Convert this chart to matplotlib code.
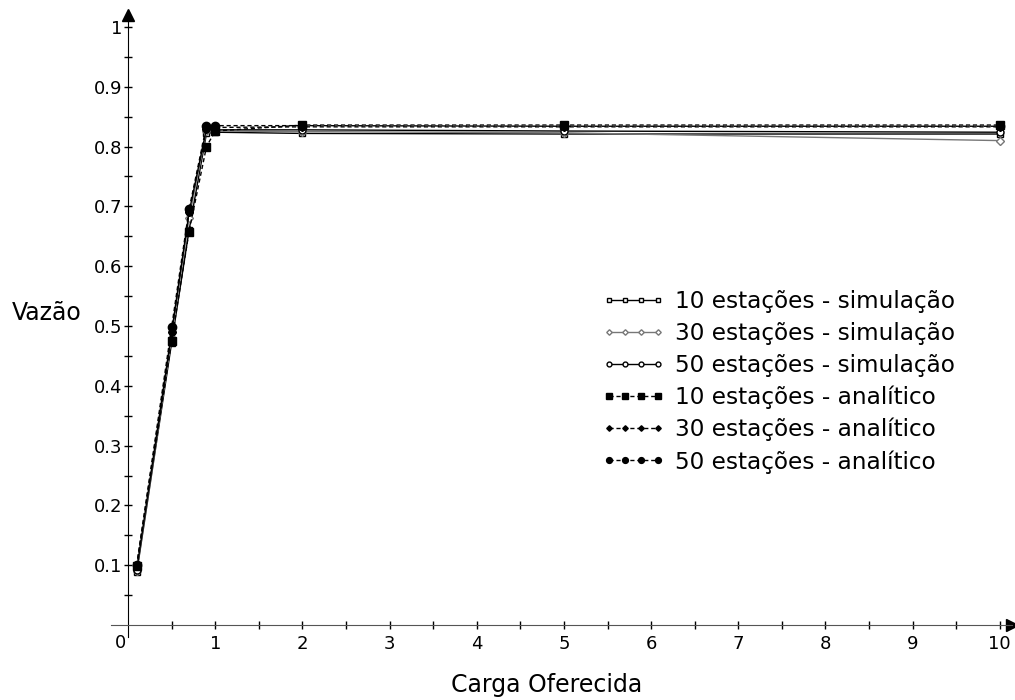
import numpy as np
import matplotlib
matplotlib.use("Agg")
import matplotlib.pyplot as plt

plt.rcParams['font.family'] = ['DejaVu Sans']

# carga oferecida
carga = [0.1, 0.5, 0.7, 0.9, 1, 2, 5, 10]

sim10 = [0.088, 0.472, 0.660, 0.822, 0.824, 0.822, 0.821, 0.821]
sim30 = [0.090, 0.480, 0.680, 0.826, 0.826, 0.825, 0.823, 0.810]
sim50 = [0.092, 0.490, 0.690, 0.830, 0.828, 0.828, 0.826, 0.824]
ana10 = [0.098, 0.475, 0.658, 0.800, 0.826, 0.836, 0.836, 0.836]
ana30 = [0.100, 0.490, 0.690, 0.830, 0.832, 0.833, 0.833, 0.833]
ana50 = [0.100, 0.498, 0.695, 0.835, 0.835, 0.835, 0.834, 0.834]

labels = ['10 estações - simulação', '30 estações - simulação', '50 estações - simulação',
          '10 estações - analítico', '30 estações - analítico', '50 estações - analítico']

fig = plt.figure(figsize=(10.15, 7.0), dpi=100)
x0, x1 = -0.2, 10.14
y0, y1 = -0.02, 1.02
ax = fig.add_axes([110.6/1015, (700-637)/700, (1012-110.6)/1015, 622/700])
ax.set_xlim(x0, x1)
ax.set_ylim(y0, y1)

ax.plot(carga, sim10, '-', color='black', lw=1, marker='s', ms=5, mfc='white', mec='black', label=labels[0])
ax.plot(carga, sim30, '-', color='#777777', lw=1, marker='D', ms=4, mfc='white', mec='#777777', label=labels[1])
ax.plot(carga, sim50, '-', color='black', lw=1, marker='o', ms=5, mfc='white', mec='black', label=labels[2])
ax.plot(carga, ana10, '--', color='black', lw=1, dashes=(3, 2), marker='s', ms=6, mfc='black', mec='black', label=labels[3])
ax.plot(carga, ana30, '--', color='black', lw=1, dashes=(3, 2), marker='D', ms=4, mfc='black', mec='black', label=labels[4])
ax.plot(carga, ana50, '--', color='black', lw=1, dashes=(3, 2), marker='o', ms=6, mfc='black', mec='black', label=labels[5])

# eixos passando pela origem
for s in ['top', 'right']:
    ax.spines[s].set_visible(False)
ax.spines['left'].set_position(('data', 0))
ax.spines['bottom'].set_position(('data', 0))
ax.spines['bottom'].set_color('#555555')
ax.spines['left'].set_color('black')
ax.plot(1, 0, '>', color='black', ms=8, transform=ax.get_yaxis_transform(), clip_on=False)
ax.plot(0, 1, '^', color='black', ms=8, transform=ax.get_xaxis_transform(), clip_on=False)

ax.set_xticks(range(1, 11))
ax.set_xticks(np.arange(0.5, 10, 1.0), minor=True)
ax.set_yticks([0.1, 0.2, 0.3, 0.4, 0.5, 0.6, 0.7, 0.8, 0.9, 1])
ax.set_yticklabels(['0.1', '0.2', '0.3', '0.4', '0.5', '0.6', '0.7', '0.8', '0.9', '1'])
ax.set_yticks(np.arange(0.05, 1.0, 0.1), minor=True)
ax.tick_params(axis='both', which='both', direction='inout', length=6, width=1, labelsize=13)
ax.tick_params(axis='x', pad=4)
ax.tick_params(axis='y', pad=1)
ax.text(-0.02, -0.015, '0', ha='right', va='top', fontsize=13)

fig.text(47/1015, 1 - 313/700, 'Vazão', ha='center', va='center', fontsize=17)
fig.text(547/1015, 1 - 685/700, 'Carga Oferecida', ha='center', va='center', fontsize=17)

ax.legend(loc='upper left', bbox_to_anchor=(602/1015, 1 - 290/700), bbox_transform=fig.transFigure,
          frameon=False, numpoints=4, handlelength=2.7, handletextpad=0.43, labelspacing=0.38,
          fontsize=16.7, markerscale=0.7, borderpad=0, borderaxespad=0)

fig.savefig('out.png', dpi=100)
